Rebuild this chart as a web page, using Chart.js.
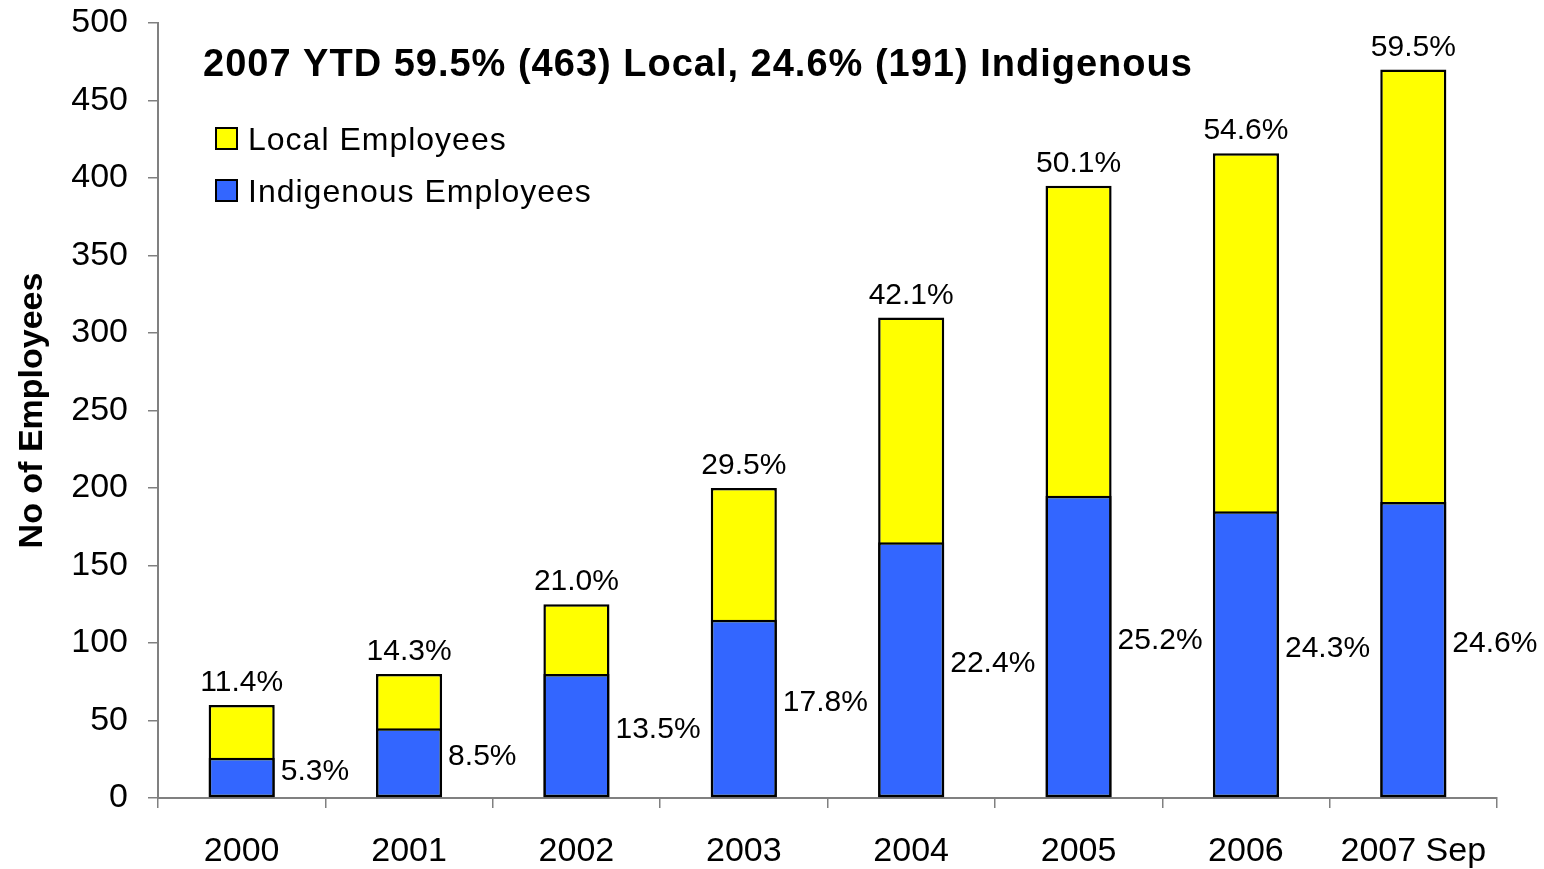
<!DOCTYPE html>
<html lang="en">
<head>
    <meta charset="UTF-8">
    <title>Local and Indigenous Employees</title>
    <script src="https://cdn.jsdelivr.net/npm/chart.js@4.4.0/dist/chart.umd.min.js"></script>
    <style>
        body {margin: 0; background: #fff;}
        #wrap {width: 1544px; height: 869px;}
    </style>
</head>
<body>
    <div id="wrap">
        <canvas id="chart"></canvas>
    </div>
    <script>
        const years = ['2000', '2001', '2002', '2003', '2004', '2005', '2006', '2007 Sep'];
        const localEmployees = [60, 80, 125, 200, 310, 395, 416, 470];
        const indigenousEmployees = [26, 45, 80, 115, 165, 195, 185, 191];
        const localPct = ['11.4%', '14.3%', '21.0%', '29.5%', '42.1%', '50.1%', '54.6%', '59.5%'];
        const indigenousPct = ['5.3%', '8.5%', '13.5%', '17.8%', '22.4%', '25.2%', '24.3%', '24.6%'];
        const yMin = 0, yMax = 500, yStep = 50;
        const chartTitle = '2007 YTD 59.5% (463) Local, 24.6% (191) Indigenous';

        const font = '"Liberation Sans", Arial, sans-serif';

        // percentages next to the bars, plus the title and legend inside the plot
        const labelPlugin = {
            id: 'barLabels',
            afterDatasetsDraw(chart) {
                const ctx = chart.ctx;
                const localMeta = chart.getDatasetMeta(0);
                const indMeta = chart.getDatasetMeta(1);
                ctx.save();
                ctx.fillStyle = '#000';
                ctx.font = '30px ' + font;
                ctx.textBaseline = 'alphabetic';
                localMeta.data.forEach((bar, i) => {
                    ctx.textAlign = 'center';
                    ctx.fillText(localPct[i], bar.x, bar.y - 14);
                });
                indMeta.data.forEach((bar, i) => {
                    ctx.textAlign = 'left';
                    ctx.textBaseline = 'middle';
                    ctx.fillText(indigenousPct[i], bar.x + bar.width / 2 + 6, (bar.y + bar.base) / 2 - 6);
                });

                const left = chart.chartArea.left;
                const top = chart.chartArea.top;
                ctx.textAlign = 'left';
                ctx.textBaseline = 'alphabetic';
                ctx.font = 'bold 38px ' + font;
                ctx.letterSpacing = '1px';
                ctx.fillText(chartTitle, left + 45, top + 53);

                ctx.font = '32px ' + font;
                const items = [chart.data.datasets[0], chart.data.datasets[1]];
                items.forEach((ds, i) => {
                    const y = top + 105 + i * 52;
                    ctx.fillStyle = ds.backgroundColor;
                    ctx.fillRect(left + 58, y, 21, 21);
                    ctx.strokeStyle = '#000';
                    ctx.lineWidth = 2;
                    ctx.strokeRect(left + 58, y, 21, 21);
                    ctx.fillStyle = '#000';
                    ctx.fillText(ds.label, left + 90, y + 22);
                });
                ctx.restore();
            }
        };

        new Chart(document.getElementById('chart'), {
            type: 'bar',
            data: {
                labels: years,
                datasets: [{
                    label: 'Local Employees',
                    data: localEmployees,
                    backgroundColor: '#FFFF00',
                    borderColor: '#000',
                    borderWidth: 2.5,
                    borderSkipped: false,
                    grouped: false,
                    order: 2
                }, {
                    label: 'Indigenous Employees',
                    data: indigenousEmployees,
                    backgroundColor: '#3366FF',
                    borderColor: '#000',
                    borderWidth: 2.5,
                    borderSkipped: false,
                    grouped: false,
                    order: 1
                }]
            },
            options: {
                responsive: true,
                maintainAspectRatio: false,
                animation: false,
                datasets: {
                    bar: {barPercentage: 0.395, categoryPercentage: 1}
                },
                layout: {padding: {top: 23, right: 47, left: 0, bottom: 0}},
                plugins: {
                    legend: {display: false},
                    tooltip: {enabled: false}
                },
                scales: {
                    x: {
                        grid: {offset: true, drawOnChartArea: false, tickLength: 10, color: '#808080', lineWidth: 1.5},
                        border: {color: '#808080', width: 2},
                        ticks: {color: '#000', font: {size: 34, family: font}, padding: 23, maxRotation: 0},
                        afterFit(scale) {
                            scale.height = 71;
                            scale.paddingLeft = 0;
                            scale.paddingRight = 0;
                        }
                    },
                    y: {
                        min: yMin,
                        max: yMax,
                        grid: {drawOnChartArea: false, tickLength: 10, color: '#808080', lineWidth: 1.5},
                        border: {color: '#808080', width: 2},
                        ticks: {stepSize: yStep, color: '#000', font: {size: 34, family: font}, padding: 20},
                        title: {
                            display: true,
                            text: 'No of Employees',
                            color: '#000',
                            font: {size: 34, weight: 'bold', family: font},
                            padding: {top: 12, bottom: 0}
                        },
                        afterFit(scale) {
                            scale.width = 158;
                            scale.paddingTop = 0;
                            scale.paddingBottom = 0;
                        }
                    }
                }
            },
            plugins: [labelPlugin]
        });
    </script>
</body>
</html>
